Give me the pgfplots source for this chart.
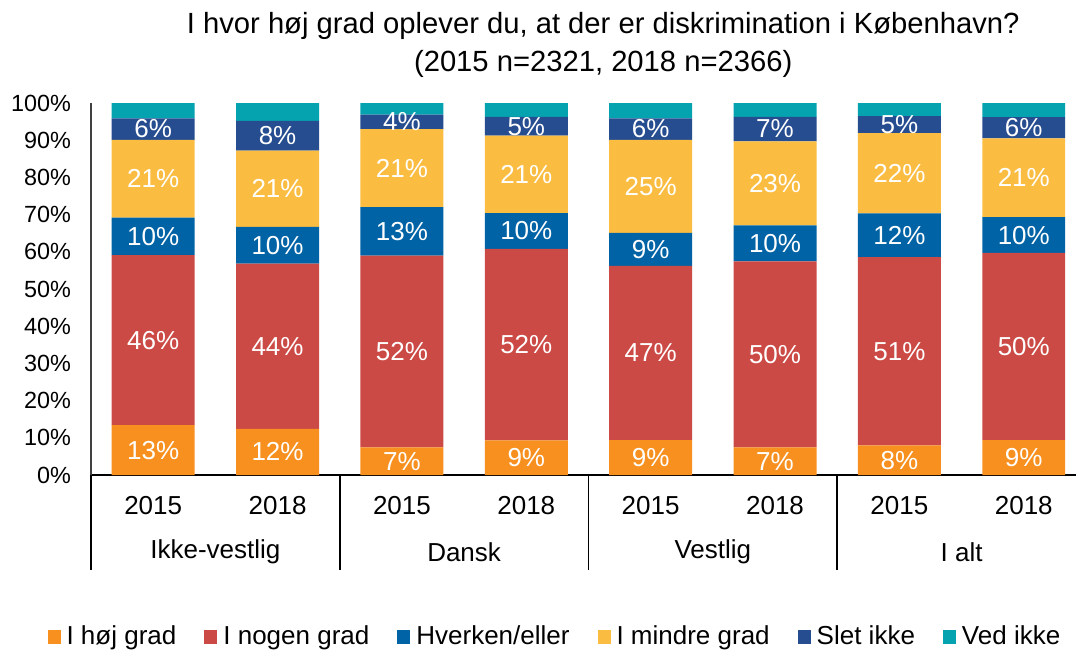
\documentclass[border=0pt]{standalone}
\usepackage{pgfplots}
\usepackage{pgfplotstable}
\pgfplotsset{compat=1.18}
\usepackage{fontspec}
\setmainfont{Liberation Sans}

\definecolor{cOrange}{HTML}{F7901E}
\definecolor{cRed}{HTML}{CC4A45}
\definecolor{cBlue}{HTML}{0063A5}
\definecolor{cYellow}{HTML}{FBBD41}
\definecolor{cDark}{HTML}{264D8F}
\definecolor{cTeal}{HTML}{04A3AF}

% one row per bar: Ikke-vestlig, Dansk, Vestlig, I alt (2015, 2018)
\pgfplotstableread{
x  hoej  nogen  hverken  mindre  slet  ved
0  13.4  45.7   10.1     20.9    5.8   4.1
1  12.4  44.4    9.9     20.5    8.0   4.8
2   7.4  51.6   13.0     21.0    3.9   3.1
3   9.3  51.5    9.6     20.8    5.1   3.7
4   9.4  46.8    8.9     25.0    5.8   4.1
5   7.4  50.0    9.7     22.6    6.6   3.7
6   8.0  50.6   11.7     21.6    4.6   3.5
7   9.4  50.3    9.6     21.2    5.7   3.8
}\data

\pgfplotsset{
    seg/.style={fill=#1, draw=none, nodes near coords={\pgfmathprintnumber[fixed,precision=0]{\rawy}\%},
        visualization depends on=rawy\as\rawy,
        every node near coord/.append style={anchor=center, text=white,
            font=\fontsize{13}{15}\selectfont}},
    segnolabel/.style={fill=#1, draw=none}
}

\begin{document}
\begin{tikzpicture}
\useasboundingbox (-45.5pt,-87.5pt) rectangle (492.5pt,237.5pt);
\begin{axis}[
    at={(0pt,0pt)}, anchor=south west,
    scale only axis,
    width=492.5pt, height=186pt,
    ybar stacked, bar width=0.667,
    xmin=-0.5, xmax=7.42,
    ymin=0, ymax=100,
    xtick=data,
    xticklabels={2015,2018,2015,2018,2015,2018,2015,2018},
    ytick={0,10,...,100},
    yticklabel={\pgfmathprintnumber{\tick}\%},
    /pgf/number format/assume math mode=true,
    major tick length=0pt,
    axis x line*=bottom, axis y line*=left,
    x axis line style={line width=1pt, -},
    y axis line style={line width=0.8pt, black!75, -},
    tick label style={font=\fontsize{13}{15}\selectfont},
    yticklabel style={font=\fontsize{11.7}{14}\selectfont, xshift=-6.5pt},
    xticklabel style={yshift=-7pt},
    clip=false,
    legend columns=6,
    legend style={draw=none, at={(0.472,-0.435)}, anchor=center,
        font=\fontsize{13}{15}\selectfont,
        /tikz/every even column/.append style={column sep=12pt},
        /tikz/every odd column/.append style={column sep=1pt}},
    legend image code/.code={\fill[#1] (0pt,-3.5pt) rectangle (6.5pt,3.5pt);},
]
\addplot[seg=cOrange] table[x=x, y=hoej] {\data};
\addplot[seg=cRed] table[x=x, y=nogen] {\data};
\addplot[seg=cBlue] table[x=x, y=hverken] {\data};
\addplot[seg=cYellow] table[x=x, y=mindre] {\data};
\addplot[seg=cDark] table[x=x, y=slet] {\data};
\addplot[segnolabel=cTeal] table[x=x, y=ved] {\data};
\legend{I høj grad, I nogen grad, Hverken/eller, I mindre grad, Slet ikke, Ved ikke}

% group separators and group names
\pgfplotsinvokeforeach{-0.5,1.5,3.5,5.5}{
    \draw[line width=0.8pt] (axis cs:#1,0) -- ++(0pt,-47.5pt);
}
\node[font=\fontsize{13}{15}\selectfont] at ([yshift=-38.5pt]axis cs:0.5,0) {Ikke-vestlig};
\node[font=\fontsize{13}{15}\selectfont] at ([yshift=-38.5pt]axis cs:2.5,0) {Dansk};
\node[font=\fontsize{13}{15}\selectfont] at ([yshift=-38.5pt]axis cs:4.5,0) {Vestlig};
\node[font=\fontsize{13}{15}\selectfont] at ([yshift=-38.5pt]axis cs:6.5,0) {I alt};

\node[font=\fontsize{14.6}{17}\selectfont, align=center, anchor=south, inner sep=0pt]
    at ([yshift=12.5pt]rel axis cs:0.52,1)
    {I hvor høj grad oplever du, at der er diskrimination i København?\\[2pt](2015 n=2321, 2018 n=2366)};
\end{axis}
\end{tikzpicture}
\end{document}
